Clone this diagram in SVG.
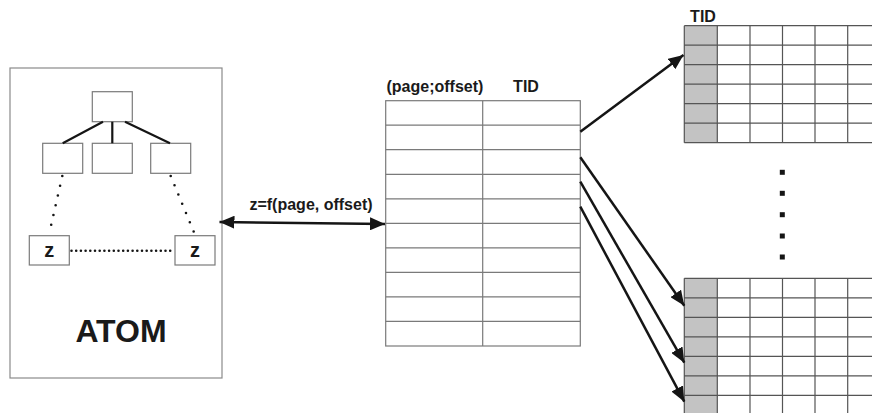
<svg xmlns="http://www.w3.org/2000/svg" width="872" height="413" viewBox="0 0 872 413">
  <style>
    .frame { fill: #ffffff; stroke: #8a8a8a; stroke-width: 1.2; }
    .cell { fill: #ffffff; stroke: #7a7a7a; stroke-width: 1.2; }
    .grid { stroke: #555555; stroke-width: 1.2; fill: none; }
    .edge { stroke: #151515; stroke-width: 2.2; fill: none; }
    .dots { stroke: #151515; stroke-width: 2.6; fill: none; stroke-dasharray: 0 10; stroke-linecap: round; }
    .dots-h { stroke-dasharray: 0 4.7; }
    .arrow { stroke: #151515; stroke-width: 2.5; fill: none; }
    .lbl { font-family: "Liberation Sans", Arial, sans-serif; font-weight: bold; fill: #1a1a1a; }
  </style>
  <defs>
    <marker id="head" viewBox="0 0 15 13" refX="15" refY="6.5" markerWidth="15" markerHeight="13" markerUnits="userSpaceOnUse" orient="auto-start-reverse">
      <path d="M0,0 L15,6.5 L0,13 Z" fill="#151515"/>
    </marker>
  </defs>

  <rect width="872" height="413" fill="#ffffff"/>

  <!-- ATOM container with its tree -->
  <g id="atom">
    <rect class="frame" x="10" y="68" width="212" height="310"/>
    <text class="lbl" x="121" y="342" font-size="32" text-anchor="middle">ATOM</text>
  </g>
  <g id="tree-root"><rect class="cell" x="92.3" y="91.7" width="40" height="30"/></g>
  <g id="tree-left"><rect class="cell" x="42.7" y="143.3" width="40" height="30"/></g>
  <g id="tree-mid"><rect class="cell" x="92.3" y="143.3" width="40" height="30"/></g>
  <g id="tree-right"><rect class="cell" x="150.7" y="143.3" width="40" height="30"/></g>
  <g id="z-left">
    <rect class="cell" x="29.3" y="235.7" width="40" height="29.3"/>
    <text class="lbl" x="49.3" y="256.7" font-size="20" text-anchor="middle">z</text>
  </g>
  <g id="z-right">
    <rect class="cell" x="175" y="235.7" width="40" height="29.3"/>
    <text class="lbl" x="195" y="256.7" font-size="20" text-anchor="middle">z</text>
  </g>

  <!-- mapping table -->
  <g id="table">
    <text class="lbl" x="386.5" y="92" font-size="16">(page;offset)</text>
    <text class="lbl" x="526" y="92" font-size="16" text-anchor="middle">TID</text>
    <rect class="cell" x="385.7" y="100.7" width="194.6" height="245.3"/>
    <path class="cell" d="M482.7,100.7 V346 M385.7,125.2 H580.3 M385.7,149.7 H580.3 M385.7,174.3 H580.3 M385.7,198.8 H580.3 M385.7,223.3 H580.3 M385.7,247.8 H580.3 M385.7,272.3 H580.3 M385.7,296.9 H580.3 M385.7,321.4 H580.3"/>
  </g>

  <!-- upper page -->
  <g id="page-top">
    <text class="lbl" x="703" y="21.7" font-size="16" text-anchor="middle">TID</text>
    <rect x="684.3" y="25.7" width="33" height="117" fill="#c3c3c3"/>
    <path class="grid" d="M684.3,25.7 H880 M684.3,45.2 H880 M684.3,64.7 H880 M684.3,84.2 H880 M684.3,103.7 H880 M684.3,123.2 H880 M684.3,142.7 H880 M684.3,25.7 V142.7 M717.3,25.7 V142.7 M750,25.7 V142.7 M782.5,25.7 V142.7 M815,25.7 V142.7 M847.7,25.7 V142.7"/>
  </g>

  <!-- ellipsis between pages -->
  <g id="ellipsis" fill="#151515">
    <rect x="779.8" y="169.8" width="5" height="5"/>
    <rect x="779.8" y="190.8" width="5" height="5"/>
    <rect x="779.8" y="212.2" width="5" height="5"/>
    <rect x="779.8" y="233.5" width="5" height="5"/>
    <rect x="779.8" y="254.5" width="5" height="5"/>
  </g>

  <!-- lower page -->
  <g id="page-bottom">
    <rect x="684.3" y="278.3" width="33" height="140" fill="#c3c3c3"/>
    <path class="grid" d="M684.3,278.3 H880 M684.3,297.8 H880 M684.3,317.3 H880 M684.3,336.8 H880 M684.3,356.3 H880 M684.3,375.8 H880 M684.3,395.3 H880 M684.3,278.3 V420 M717.3,278.3 V420 M750,278.3 V420 M782.5,278.3 V420 M815,278.3 V420 M847.7,278.3 V420"/>
  </g>

  <!-- connectors -->
  <g id="connectors">
    <path class="edge" d="M103,121.7 L62.7,143.3 M112.3,121.7 V143.3 M125,121.7 L170,143.3"/>
    <path class="dots" d="M62.3,176 L50.7,227"/>
    <path class="dots" d="M170.7,176 L194.3,233"/>
    <path class="dots dots-h" d="M71.5,250.7 H173"/>
    <path class="arrow" d="M219.5,222 L385,224" marker-start="url(#head)" marker-end="url(#head)"/>
    <text class="lbl" x="311" y="210" font-size="16" text-anchor="middle">z=f(page, offset)</text>
    <path class="arrow" d="M580.3,131.7 L683.5,55" marker-end="url(#head)"/>
    <path class="arrow" d="M580.3,157.3 L684.3,305.7" marker-end="url(#head)"/>
    <path class="arrow" d="M580.3,181.7 L684.3,362.7" marker-end="url(#head)"/>
    <path class="arrow" d="M580.3,206.7 L684.3,401.7" marker-end="url(#head)"/>
  </g>
</svg>
